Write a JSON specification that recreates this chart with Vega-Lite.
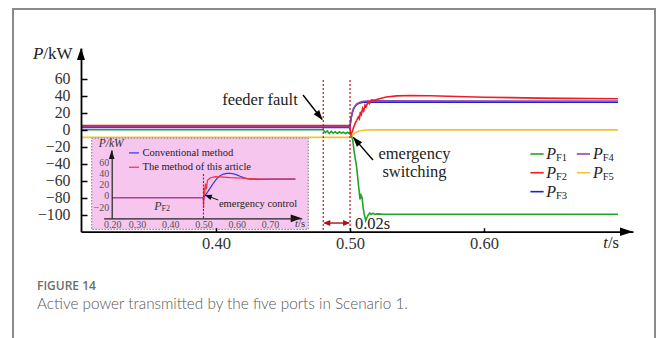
{
  "$schema": "https://vega.github.io/schema/vega-lite/v6.json",
  "width": 642,
  "height": 340,
  "autosize": {"type": "none"},
  "padding": {"left": 13, "top": 9, "right": 1, "bottom": 0},
  "background": "white",
  "config": {"view": {"stroke": "#8a8a8a", "strokeWidth": 2}, "font": "Liberation Serif"},
  "title": {
    "text": "FIGURE 14",
    "subtitle": "Active power transmitted by the five ports in Scenario 1.",
    "orient": "bottom", "anchor": "start", "frame": "group", "offset": -68, "dx": 24,
    "font": "Open Sans", "fontSize": 12, "fontWeight": 600, "color": "#6e6e6e",
    "subtitleFont": "Lato", "subtitleFontSize": 15.3, "subtitleFontWeight": 300, "subtitleColor": "#555555", "subtitlePadding": 4
  },
  "data": {"values": [{}]},
  "datasets": {
    "main": [
      {"s": "PF3", "t": 0.2995, "p": 2.6}, {"s": "PF3", "t": 0.4998, "p": 2.6}, {"s": "PF3", "t": 0.5004, "p": 9}, {"s": "PF3", "t": 0.501, "p": 15}, {"s": "PF3", "t": 0.5018, "p": 20.5}, {"s": "PF3", "t": 0.5028, "p": 25}, {"s": "PF3", "t": 0.504, "p": 28}, {"s": "PF3", "t": 0.5055, "p": 30.3}, {"s": "PF3", "t": 0.5075, "p": 31.6}, {"s": "PF3", "t": 0.51, "p": 32.3}, {"s": "PF3", "t": 0.514, "p": 32.5}, {"s": "PF3", "t": 0.52, "p": 32.5}, {"s": "PF3", "t": 0.7, "p": 32.3},
      {"s": "PF4", "t": 0.2995, "p": 3.4}, {"s": "PF4", "t": 0.4998, "p": 3.4}, {"s": "PF4", "t": 0.5003, "p": 8}, {"s": "PF4", "t": 0.5008, "p": 14}, {"s": "PF4", "t": 0.5015, "p": 19.5}, {"s": "PF4", "t": 0.5025, "p": 24.5}, {"s": "PF4", "t": 0.5038, "p": 28}, {"s": "PF4", "t": 0.505, "p": 30.3}, {"s": "PF4", "t": 0.507, "p": 32}, {"s": "PF4", "t": 0.509, "p": 33}, {"s": "PF4", "t": 0.512, "p": 33.6}, {"s": "PF4", "t": 0.52, "p": 33.9}, {"s": "PF4", "t": 0.7, "p": 33.8},
      {"s": "PF5", "t": 0.2995, "p": -9}, {"s": "PF5", "t": 0.4995, "p": -9}, {"s": "PF5", "t": 0.5012, "p": -7.5}, {"s": "PF5", "t": 0.503, "p": -5}, {"s": "PF5", "t": 0.5045, "p": -3}, {"s": "PF5", "t": 0.507, "p": -1.5}, {"s": "PF5", "t": 0.51, "p": -0.6}, {"s": "PF5", "t": 0.515, "p": -0.2}, {"s": "PF5", "t": 0.7, "p": -0.2},
      {"s": "PF1", "t": 0.2995, "p": 0}, {"s": "PF1", "t": 0.48, "p": 0}, {"s": "PF1", "t": 0.4815, "p": -3.5}, {"s": "PF1", "t": 0.483, "p": -1.5}, {"s": "PF1", "t": 0.4845, "p": -4.5}, {"s": "PF1", "t": 0.486, "p": -2}, {"s": "PF1", "t": 0.4875, "p": -4}, {"s": "PF1", "t": 0.489, "p": -2.5}, {"s": "PF1", "t": 0.4905, "p": -4.5}, {"s": "PF1", "t": 0.492, "p": -2.5}, {"s": "PF1", "t": 0.4935, "p": -4}, {"s": "PF1", "t": 0.495, "p": -3}, {"s": "PF1", "t": 0.4965, "p": -4.5}, {"s": "PF1", "t": 0.498, "p": -3}, {"s": "PF1", "t": 0.4995, "p": -4.5}, {"s": "PF1", "t": 0.5008, "p": -6}, {"s": "PF1", "t": 0.502, "p": -12}, {"s": "PF1", "t": 0.503, "p": -25}, {"s": "PF1", "t": 0.505, "p": -45}, {"s": "PF1", "t": 0.5065, "p": -68}, {"s": "PF1", "t": 0.5075, "p": -82}, {"s": "PF1", "t": 0.5082, "p": -77}, {"s": "PF1", "t": 0.509, "p": -80}, {"s": "PF1", "t": 0.5098, "p": -92}, {"s": "PF1", "t": 0.5108, "p": -101}, {"s": "PF1", "t": 0.5117, "p": -107}, {"s": "PF1", "t": 0.5127, "p": -103}, {"s": "PF1", "t": 0.5137, "p": -100}, {"s": "PF1", "t": 0.5147, "p": -98}, {"s": "PF1", "t": 0.5157, "p": -99.8}, {"s": "PF1", "t": 0.517, "p": -98.3}, {"s": "PF1", "t": 0.5185, "p": -99.6}, {"s": "PF1", "t": 0.521, "p": -99}, {"s": "PF1", "t": 0.525, "p": -99.4}, {"s": "PF1", "t": 0.7, "p": -99.4},
      {"s": "PF2", "t": 0.2995, "p": 5}, {"s": "PF2", "t": 0.4995, "p": 5}, {"s": "PF2", "t": 0.5005, "p": -5}, {"s": "PF2", "t": 0.5015, "p": -3}, {"s": "PF2", "t": 0.5025, "p": 2}, {"s": "PF2", "t": 0.504, "p": 8}, {"s": "PF2", "t": 0.505, "p": 11}, {"s": "PF2", "t": 0.5062, "p": 15}, {"s": "PF2", "t": 0.507, "p": 13}, {"s": "PF2", "t": 0.5077, "p": 21}, {"s": "PF2", "t": 0.5084, "p": 18}, {"s": "PF2", "t": 0.5094, "p": 25}, {"s": "PF2", "t": 0.5102, "p": 22}, {"s": "PF2", "t": 0.5112, "p": 29}, {"s": "PF2", "t": 0.512, "p": 27}, {"s": "PF2", "t": 0.5135, "p": 33}, {"s": "PF2", "t": 0.5145, "p": 30.5}, {"s": "PF2", "t": 0.516, "p": 35}, {"s": "PF2", "t": 0.518, "p": 34.5}, {"s": "PF2", "t": 0.522, "p": 36.5}, {"s": "PF2", "t": 0.527, "p": 38.5}, {"s": "PF2", "t": 0.535, "p": 39.8}, {"s": "PF2", "t": 0.545, "p": 40.3}, {"s": "PF2", "t": 0.56, "p": 40}, {"s": "PF2", "t": 0.58, "p": 39}, {"s": "PF2", "t": 0.6, "p": 38.2}, {"s": "PF2", "t": 0.62, "p": 37.7}, {"s": "PF2", "t": 0.64, "p": 37.2}, {"s": "PF2", "t": 0.66, "p": 36.9}, {"s": "PF2", "t": 0.68, "p": 36.7}, {"s": "PF2", "t": 0.7, "p": 36.5}
    ],
    "inset": [
      {"m": "Conventional method", "t": 0.225, "p": -3}, {"m": "Conventional method", "t": 0.4995, "p": -3}, {"m": "Conventional method", "t": 0.5005, "p": -8}, {"m": "Conventional method", "t": 0.502, "p": -2}, {"m": "Conventional method", "t": 0.51, "p": 5}, {"m": "Conventional method", "t": 0.52, "p": 14}, {"m": "Conventional method", "t": 0.53, "p": 23}, {"m": "Conventional method", "t": 0.54, "p": 31}, {"m": "Conventional method", "t": 0.55, "p": 36}, {"m": "Conventional method", "t": 0.56, "p": 39}, {"m": "Conventional method", "t": 0.57, "p": 40.3}, {"m": "Conventional method", "t": 0.58, "p": 40.5}, {"m": "Conventional method", "t": 0.59, "p": 39.5}, {"m": "Conventional method", "t": 0.6, "p": 37.5}, {"m": "Conventional method", "t": 0.61, "p": 35}, {"m": "Conventional method", "t": 0.62, "p": 32.7}, {"m": "Conventional method", "t": 0.63, "p": 31}, {"m": "Conventional method", "t": 0.64, "p": 30}, {"m": "Conventional method", "t": 0.66, "p": 29.7}, {"m": "Conventional method", "t": 0.7, "p": 30}, {"m": "Conventional method", "t": 0.776, "p": 30},
      {"m": "The method of this article", "t": 0.225, "p": -3}, {"m": "The method of this article", "t": 0.4995, "p": -3}, {"m": "The method of this article", "t": 0.5003, "p": -22}, {"m": "The method of this article", "t": 0.5015, "p": 15}, {"m": "The method of this article", "t": 0.503, "p": 0}, {"m": "The method of this article", "t": 0.506, "p": 22}, {"m": "The method of this article", "t": 0.509, "p": 12}, {"m": "The method of this article", "t": 0.512, "p": 28}, {"m": "The method of this article", "t": 0.52, "p": 32}, {"m": "The method of this article", "t": 0.535, "p": 34.5}, {"m": "The method of this article", "t": 0.55, "p": 34}, {"m": "The method of this article", "t": 0.58, "p": 32.5}, {"m": "The method of this article", "t": 0.62, "p": 31.5}, {"m": "The method of this article", "t": 0.66, "p": 30.5}, {"m": "The method of this article", "t": 0.7, "p": 30.2}, {"m": "The method of this article", "t": 0.776, "p": 30}
    ],
    "events": [{"t": 0.48}, {"t": 0.5}]
  },
  "layer": [
    {
      "layer": [
        {
          "data": {"name": "main"},
          "mark": {"type": "line", "strokeWidth": 1.6},
          "encoding": {
            "x": {"field": "t", "type": "quantitative",
              "scale": {"domain": [0.2992, 0.7112], "range": [68, 620], "nice": false, "zero": false},
              "axis": {"orient": "bottom", "offset": -117.3, "values": [0.4, 0.5, 0.6], "format": ".2f", "title": null, "grid": false, "zindex": 1,
                "domainColor": "#000000", "domainWidth": 1.8, "tickColor": "#000000", "tickWidth": 1.5, "tickSize": -4, "labelPadding": 8,
                "labelFont": "Liberation Serif", "labelFontSize": 16.5, "labelColor": "#333333"}},
            "y": {"field": "p", "type": "quantitative",
              "scale": {"domain": [-120, 96], "range": [222.7, 39.1], "nice": false, "zero": false},
              "axis": {"orient": "left", "offset": -68, "values": [-100, -80, -60, -40, -20, 0, 20, 40, 60], "title": null, "grid": false, "zindex": 1,
                "domainColor": "#000000", "domainWidth": 1.8, "tickColor": "#000000", "tickWidth": 1.5, "tickSize": -6, "labelPadding": 17,
                "labelFont": "Liberation Serif", "labelFontSize": 15.8, "labelColor": "#333333"}},
            "color": {"field": "s", "type": "nominal",
              "scale": {"domain": ["PF1", "PF2", "PF3", "PF4", "PF5"], "range": ["#22a32a", "#ee1c24", "#1f1fd6", "#8e4aae", "#f5c331"]},
              "legend": null}
          }
        },
        {
          "data": {"name": "events"},
          "mark": {"type": "rule", "color": "#c0141c", "strokeWidth": 1.2, "strokeDash": [2, 2]},
          "encoding": {"x": {"field": "t", "type": "quantitative"}, "y": {"datum": 58.5}, "y2": {"datum": -120}}
        },
        {"mark": {"type": "point", "shape": "M -0.67 2 L 0 0 L 0.67 2 Z", "size": 144, "filled": true, "color": "#000000", "opacity": 1, "strokeWidth": 0},
         "encoding": {"x": {"datum": 0.2992}, "y": {"datum": 96}}},
        {"mark": {"type": "point", "shape": "M -2 -0.66 L 0 0 L -2 0.66 Z", "size": 169, "filled": true, "color": "#000000", "opacity": 1, "strokeWidth": 0},
         "encoding": {"x": {"datum": 0.7112}, "y": {"datum": -120}}},
        {"mark": {"type": "text", "text": "feeder fault", "fontSize": 16.5, "align": "center", "baseline": "middle", "color": "#222222"},
         "encoding": {"x": {"datum": 0.4328}, "y": {"datum": 35.5}}},
        {"mark": {"type": "rule", "color": "#000000", "strokeWidth": 1.4},
         "encoding": {"x": {"datum": 0.4649}, "y": {"datum": 40.8}, "x2": {"datum": 0.4792}, "y2": {"datum": 12}}},
        {"mark": {"type": "point", "shape": "M -0.7 2 L 0 0 L 0.7 2 Z", "size": 100, "angle": 142, "filled": true, "color": "#000000", "opacity": 1, "strokeWidth": 0},
         "encoding": {"x": {"datum": 0.4795}, "y": {"datum": 11.4}}},
        {"mark": {"type": "text", "text": ["emergency", "switching"], "lineHeight": 18, "fontSize": 16.5, "align": "center", "baseline": "middle", "color": "#222222"},
         "encoding": {"x": {"datum": 0.5481}, "y": {"datum": -28.6}}},
        {"mark": {"type": "rule", "color": "#000000", "strokeWidth": 1.4},
         "encoding": {"x": {"datum": 0.5171}, "y": {"datum": -35.6}, "x2": {"datum": 0.5025}, "y2": {"datum": -9}}},
        {"mark": {"type": "point", "shape": "M -0.7 2 L 0 0 L 0.7 2 Z", "size": 100, "angle": 319, "filled": true, "color": "#000000", "opacity": 1, "strokeWidth": 0},
         "encoding": {"x": {"datum": 0.5022}, "y": {"datum": -8.5}}},
        {"mark": {"type": "text", "text": "0.02s", "fontSize": 16.5, "align": "left", "baseline": "middle", "color": "#222222"},
         "encoding": {"x": {"datum": 0.5037}, "y": {"datum": -110.4}}},
        {"mark": {"type": "rule", "color": "#b01018", "strokeWidth": 1.4},
         "encoding": {"x": {"datum": 0.481}, "y": {"datum": -109.8}, "x2": {"datum": 0.499}, "y2": {"datum": -109.8}}},
        {"mark": {"type": "point", "shape": "M 2 -0.85 L 0 0 L 2 0.85 Z", "size": 49, "filled": true, "color": "#b01018", "opacity": 1, "strokeWidth": 0},
         "encoding": {"x": {"datum": 0.48}, "y": {"datum": -109.8}}},
        {"mark": {"type": "point", "shape": "M -2 -0.85 L 0 0 L -2 0.85 Z", "size": 49, "filled": true, "color": "#b01018", "opacity": 1, "strokeWidth": 0},
         "encoding": {"x": {"datum": 0.5}, "y": {"datum": -109.8}}},
        {"mark": {"type": "text", "text": "P", "fontStyle": "italic", "fontSize": 17, "align": "right", "baseline": "middle", "color": "#222222"},
         "encoding": {"x": {"datum": 0.2711}, "y": {"datum": 89}}},
        {"mark": {"type": "text", "text": "/kW", "fontSize": 17, "align": "left", "baseline": "middle", "color": "#222222"},
         "encoding": {"x": {"datum": 0.2711}, "y": {"datum": 89}}},
        {"mark": {"type": "text", "text": "t", "fontStyle": "italic", "fontSize": 16.5, "align": "right", "baseline": "middle", "color": "#222222"},
         "encoding": {"x": {"datum": 0.6925}, "y": {"datum": -133.3}}},
        {"mark": {"type": "text", "text": "/s", "fontSize": 16.5, "align": "left", "baseline": "middle", "color": "#222222"},
         "encoding": {"x": {"datum": 0.6925}, "y": {"datum": -133.3}}},

        {"mark": {"type": "rule", "color": "#22a32a", "strokeWidth": 1.6}, "encoding": {"x": {"datum": 0.6346}, "x2": {"datum": 0.6445}, "y": {"datum": -28.6}, "y2": {"datum": -28.6}}},
        {"mark": {"type": "rule", "color": "#ee1c24", "strokeWidth": 1.6}, "encoding": {"x": {"datum": 0.6346}, "x2": {"datum": 0.6445}, "y": {"datum": -50.6}, "y2": {"datum": -50.6}}},
        {"mark": {"type": "rule", "color": "#1f1fd6", "strokeWidth": 1.6}, "encoding": {"x": {"datum": 0.6346}, "x2": {"datum": 0.6445}, "y": {"datum": -72.9}, "y2": {"datum": -72.9}}},
        {"mark": {"type": "rule", "color": "#8e4aae", "strokeWidth": 1.6}, "encoding": {"x": {"datum": 0.6692}, "x2": {"datum": 0.6791}, "y": {"datum": -28.6}, "y2": {"datum": -28.6}}},
        {"mark": {"type": "rule", "color": "#f5c331", "strokeWidth": 1.6}, "encoding": {"x": {"datum": 0.6692}, "x2": {"datum": 0.6791}, "y": {"datum": -50.6}, "y2": {"datum": -50.6}}},
        {"mark": {"type": "text", "text": "P", "fontStyle": "italic", "fontSize": 16, "align": "right", "baseline": "middle", "color": "#222222"}, "encoding": {"x": {"datum": 0.6537}, "y": {"datum": -28.6}}},
        {"mark": {"type": "text", "text": "P", "fontStyle": "italic", "fontSize": 16, "align": "right", "baseline": "middle", "color": "#222222"}, "encoding": {"x": {"datum": 0.6537}, "y": {"datum": -50.6}}},
        {"mark": {"type": "text", "text": "P", "fontStyle": "italic", "fontSize": 16, "align": "right", "baseline": "middle", "color": "#222222"}, "encoding": {"x": {"datum": 0.6537}, "y": {"datum": -72.9}}},
        {"mark": {"type": "text", "text": "P", "fontStyle": "italic", "fontSize": 16, "align": "right", "baseline": "middle", "color": "#222222"}, "encoding": {"x": {"datum": 0.6886}, "y": {"datum": -28.6}}},
        {"mark": {"type": "text", "text": "P", "fontStyle": "italic", "fontSize": 16, "align": "right", "baseline": "middle", "color": "#222222"}, "encoding": {"x": {"datum": 0.6886}, "y": {"datum": -50.6}}},
        {"mark": {"type": "text", "text": "F1", "fontSize": 10.5, "align": "left", "baseline": "middle", "dy": 4, "color": "#222222"}, "encoding": {"x": {"datum": 0.6537}, "y": {"datum": -28.6}}},
        {"mark": {"type": "text", "text": "F2", "fontSize": 10.5, "align": "left", "baseline": "middle", "dy": 4, "color": "#222222"}, "encoding": {"x": {"datum": 0.6537}, "y": {"datum": -50.6}}},
        {"mark": {"type": "text", "text": "F3", "fontSize": 10.5, "align": "left", "baseline": "middle", "dy": 4, "color": "#222222"}, "encoding": {"x": {"datum": 0.6537}, "y": {"datum": -72.9}}},
        {"mark": {"type": "text", "text": "F4", "fontSize": 10.5, "align": "left", "baseline": "middle", "dy": 4, "color": "#222222"}, "encoding": {"x": {"datum": 0.6886}, "y": {"datum": -28.6}}},
        {"mark": {"type": "text", "text": "F5", "fontSize": 10.5, "align": "left", "baseline": "middle", "dy": 4, "color": "#222222"}, "encoding": {"x": {"datum": 0.6886}, "y": {"datum": -50.6}}}
      ]
    },
    {
      "layer": [
        {"mark": {"type": "rect", "fill": "#f6c6ee", "stroke": "#7a7a7a", "strokeDash": [1.5, 1.5], "strokeWidth": 1},
         "encoding": {"x": {"datum": 0.1643}, "x2": {"datum": 0.8147}, "y": {"datum": 103.1}, "y2": {"datum": -59.7}}},
        {
          "data": {"name": "inset"},
          "mark": {"type": "line", "strokeWidth": 1.2},
          "encoding": {
            "x": {"field": "t", "type": "quantitative",
              "scale": {"domain": [0.2, 0.795], "range": [90.6, 288.7], "nice": false, "zero": false},
              "axis": {"orient": "bottom", "offset": -130.7, "values": [0.2, 0.3, 0.4, 0.5, 0.6, 0.7], "format": ".2f", "title": null, "grid": false, "zindex": 1,
                "ticks": false, "domainColor": "#222222", "domainWidth": 1.2, "labelPadding": 1,
                "labelFont": "Liberation Serif", "labelFontSize": 10, "labelColor": "#555555"}},
            "y": {"field": "p", "type": "quantitative",
              "scale": {"domain": [-40, 82], "range": [209.3, 141], "nice": false, "zero": false},
              "axis": {"orient": "left", "offset": -98.7, "values": [-20, 0, 20, 40, 60], "title": null, "grid": false, "zindex": 1,
                "ticks": false, "domainColor": "#222222", "domainWidth": 1.2, "labelPadding": 3,
                "labelFont": "Liberation Serif", "labelFontSize": 10, "labelColor": "#555555"}},
            "color": {"field": "m", "type": "nominal",
              "scale": {"domain": ["Conventional method", "The method of this article"], "range": ["#3434ee", "#f03434"]},
              "legend": null}
          }
        },
        {"mark": {"type": "rule", "color": "#c0141c", "strokeWidth": 1.2, "strokeDash": [2, 1.5]},
         "encoding": {"x": {"datum": 0.5}, "y": {"datum": 39.3}, "y2": {"datum": -40}}},
        {"mark": {"type": "point", "shape": "M -0.63 2 L 0 0 L 0.63 2 Z", "size": 81, "filled": true, "color": "#111111", "opacity": 1, "strokeWidth": 0},
         "encoding": {"x": {"datum": 0.2243}, "y": {"datum": 82}}},
        {"mark": {"type": "point", "shape": "M -2 -0.7 L 0 0 L -2 0.7 Z", "size": 121, "filled": true, "color": "#111111", "opacity": 1, "strokeWidth": 0},
         "encoding": {"x": {"datum": 0.795}, "y": {"datum": -40}}},
        {"mark": {"type": "rule", "color": "#3434ee", "strokeWidth": 1.2}, "encoding": {"x": {"datum": 0.2763}, "x2": {"datum": 0.3063}, "y": {"datum": 76.8}, "y2": {"datum": 76.8}}},
        {"mark": {"type": "rule", "color": "#f03434", "strokeWidth": 1.2}, "encoding": {"x": {"datum": 0.2763}, "x2": {"datum": 0.3063}, "y": {"datum": 51.2}, "y2": {"datum": 51.2}}},
        {"mark": {"type": "text", "text": "Conventional method", "fontSize": 10.5, "align": "left", "baseline": "middle", "color": "#222222"}, "encoding": {"x": {"datum": 0.3168}, "y": {"datum": 76.8}}},
        {"mark": {"type": "text", "text": "The method of this article", "fontSize": 10.5, "align": "left", "baseline": "middle", "color": "#222222"}, "encoding": {"x": {"datum": 0.3168}, "y": {"datum": 51.2}}},
        {"mark": {"type": "text", "text": "P", "fontStyle": "italic", "fontSize": 12, "align": "right", "baseline": "middle", "color": "#333333"}, "encoding": {"x": {"datum": 0.3739}, "y": {"datum": -18}}},
        {"mark": {"type": "text", "text": "F2", "fontSize": 8, "align": "left", "baseline": "middle", "dy": 3, "color": "#333333"}, "encoding": {"x": {"datum": 0.3739}, "y": {"datum": -18}}},
        {"mark": {"type": "text", "text": "emergency control", "fontSize": 10.5, "align": "left", "baseline": "middle", "color": "#222222"}, "encoding": {"x": {"datum": 0.5465}, "y": {"datum": -15.3}}},
        {"mark": {"type": "rule", "color": "#111111", "strokeWidth": 1}, "encoding": {"x": {"datum": 0.5443}, "y": {"datum": -7.3}, "x2": {"datum": 0.506}, "y2": {"datum": 1.2}}},
        {"mark": {"type": "point", "shape": "M -0.8 2 L 0 0 L 0.8 2 Z", "size": 49, "angle": 291, "filled": true, "color": "#111111", "opacity": 1, "strokeWidth": 0},
         "encoding": {"x": {"datum": 0.5042}, "y": {"datum": 1.7}}},
        {"mark": {"type": "text", "text": "P", "fontStyle": "italic", "fontSize": 11.5, "align": "right", "baseline": "middle", "color": "#333333"}, "encoding": {"x": {"datum": 0.2063}, "y": {"datum": 92}}},
        {"mark": {"type": "text", "text": "/kW", "fontStyle": "italic", "fontSize": 11.5, "align": "left", "baseline": "middle", "color": "#333333"}, "encoding": {"x": {"datum": 0.2063}, "y": {"datum": 92}}},
        {"mark": {"type": "text", "text": "t", "fontStyle": "italic", "fontSize": 10.5, "align": "right", "baseline": "middle", "color": "#333333"}, "encoding": {"x": {"datum": 0.7838}, "y": {"datum": -50.7}}},
        {"mark": {"type": "text", "text": "/s", "fontSize": 10.5, "align": "left", "baseline": "middle", "color": "#333333"}, "encoding": {"x": {"datum": 0.7838}, "y": {"datum": -50.7}}}
      ]
    }
  ],
  "resolve": {
    "scale": {"x": "independent", "y": "independent", "color": "independent"},
    "axis": {"x": "independent", "y": "independent"}
  }
}
